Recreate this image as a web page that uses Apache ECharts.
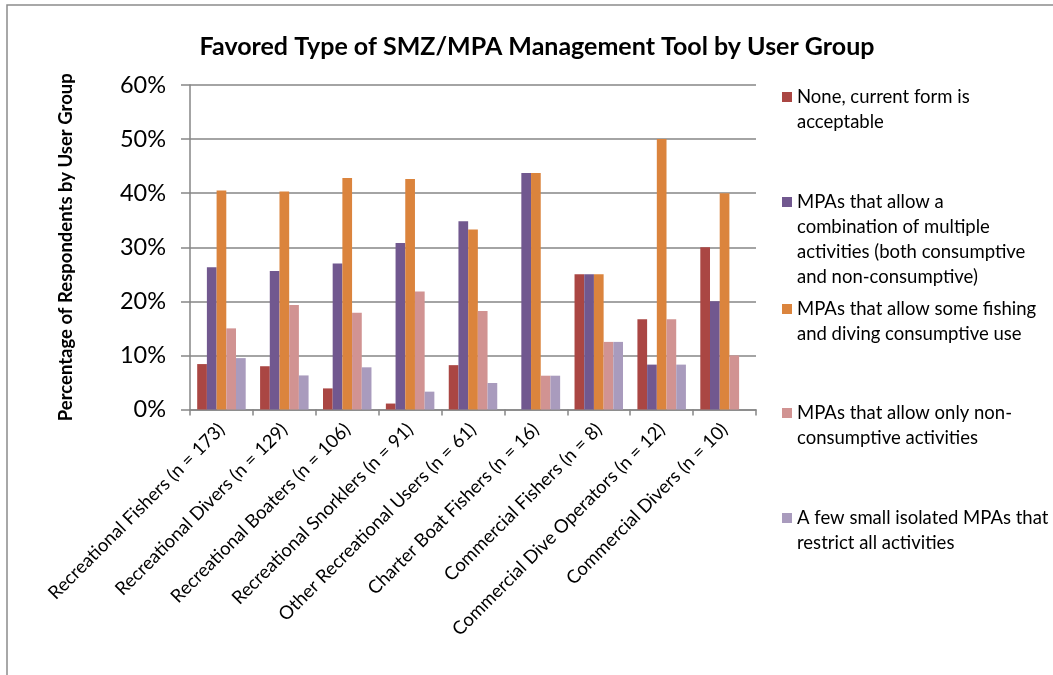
<!DOCTYPE html>
<html>
<head>
<meta charset="utf-8">
<title>Favored Type of SMZ/MPA Management Tool by User Group</title>
<script src="https://cdn.jsdelivr.net/npm/echarts@6/dist/echarts.min.js"></script>
<style>
  html, body { margin: 0; padding: 0; background: #ffffff; }
  #chart { width: 1053px; height: 675px; }
</style>
</head>
<body>
<div id="chart"></div>
<script>
// User groups surveyed (with sample size)
const categories = [
  'Recreational Fishers (n = 173)',
  'Recreational Divers (n = 129)',
  'Recreational Boaters (n = 106)',
  'Recreational Snorklers (n = 91)',
  'Other Recreational Users (n = 61)',
  'Charter Boat Fishers (n = 16)',
  'Commercial Fishers (n = 8)',
  'Commercial Dive Operators (n = 12)',
  'Commercial Divers (n = 10)'
];

// Share of respondents (%) favoring each management tool
const noneCurrent      = [8.4, 8.0, 3.9, 1.1, 8.2, 0, 25, 16.7, 30];
const multipleUse      = [26.3, 25.6, 27.0, 30.8, 34.8, 43.75, 25, 8.3, 20];
const someFishing      = [40.5, 40.3, 42.8, 42.6, 33.3, 43.75, 25, 50, 40];
const nonConsumptive   = [15.0, 19.3, 17.9, 21.8, 18.2, 6.25, 12.5, 16.7, 10];
const smallIsolated    = [9.5, 6.3, 7.8, 3.3, 4.9, 6.25, 12.5, 8.3, 0];

const seriesNames = [
  'None, current form is acceptable',
  'MPAs that allow a combination of multiple activities (both consumptive and non-consumptive)',
  'MPAs that allow some fishing and diving consumptive use',
  'MPAs that allow only non-consumptive activities',
  'A few small isolated MPAs that restrict all activities'
];

// Wrapped legend text, one entry per series
const legendLines = [
  ['None, current form is', 'acceptable'],
  ['MPAs that allow a', 'combination of multiple', 'activities (both consumptive', 'and non-consumptive)'],
  ['MPAs that allow some fishing', 'and diving consumptive use'],
  ['MPAs that allow only non-', 'consumptive activities'],
  ['A few small isolated MPAs that', 'restrict all activities']
];

const yTicks = [0, 10, 20, 30, 40, 50, 60];

const seriesValues = [noneCurrent, multipleUse, someFishing, nonConsumptive, smallIsolated];
const colors = ['#AA4643', '#71588F', '#DB843D', '#D19392', '#A99BBD'];

const FONT = 'Lato, "Open Sans", sans-serif';
const LINE_H = 25;
const legendCenters = [97, 202, 309, 413, 518];

const chart = echarts.init(document.getElementById('chart'), null, { renderer: 'canvas' });

// One legend block per series so each entry sits at its own row.
// Blank lines are prepended so the marker lines up with the first text line.
const legends = seriesNames.map((name, i) => {
  const n = legendLines[i].length;
  const pad = new Array(n - 1).fill('');
  return {
    data: [name],
    orient: 'vertical',
    left: 782,
    top: legendCenters[i] - (2 * n - 1) * LINE_H / 2,
    padding: 0,
    itemWidth: 10,
    itemHeight: 10,
    icon: 'rect',
    formatter: () => pad.concat(legendLines[i]).join('\n'),
    textStyle: {
      fontFamily: FONT,
      fontSize: 18.5,
      color: '#000',
      lineHeight: LINE_H
    }
  };
});

const option = {
  animation: false,
  backgroundColor: '#ffffff',
  title: {
    text: 'Favored Type of SMZ/MPA Management Tool by User Group',
    left: 532,
    textAlign: 'center',
    top: 29,
    textStyle: { fontFamily: FONT, fontWeight: 'bold', fontSize: 25, color: '#000' }
  },
  legend: legends,
  grid: { left: 190, right: 297, top: 85, bottom: 265.5, containLabel: false },
  xAxis: {
    type: 'category',
    data: categories,
    axisLine: { lineStyle: { color: '#868686', width: 1.5 } },
    axisTick: { show: true, alignWithLabel: false, length: 6, lineStyle: { color: '#868686', width: 1.5 } },
    axisLabel: {
      rotate: 45,
      interval: 0,
      margin: 17,
      fontFamily: FONT,
      fontSize: 18.5,
      color: '#000'
    }
  },
  yAxis: {
    type: 'value',
    min: yTicks[0],
    max: yTicks[yTicks.length - 1],
    interval: 10,
    name: 'Percentage of Respondents by User Group',
    nameLocation: 'middle',
    nameGap: 114,
    nameTextStyle: { fontFamily: FONT, fontWeight: 'bold', fontSize: 18.5, color: '#000' },
    axisLine: { show: true, lineStyle: { color: '#868686', width: 1.5 } },
    axisTick: { show: true, inside: false, length: 9, lineStyle: { color: '#868686', width: 1.5 } },
    axisLabel: {
      margin: 24,
      fontFamily: FONT,
      fontSize: 23.5,
      color: '#000',
      formatter: (v) => v + '%'
    },
    splitLine: { show: true, lineStyle: { color: '#868686', width: 1.5 } }
  },
  series: seriesNames.map((name, i) => ({
    name: name,
    type: 'bar',
    data: seriesValues[i],
    barWidth: 9.7,
    barGap: '0%',
    itemStyle: { color: colors[i] }
  })),
  graphic: [
    {
      type: 'polyline',
      silent: true,
      shape: { points: [[7, 700], [7, 5], [1060, 5]] },
      style: { stroke: '#8c8c8c', lineWidth: 1.5, fill: null }
    }
  ]
};

chart.setOption(option);
</script>
</body>
</html>
